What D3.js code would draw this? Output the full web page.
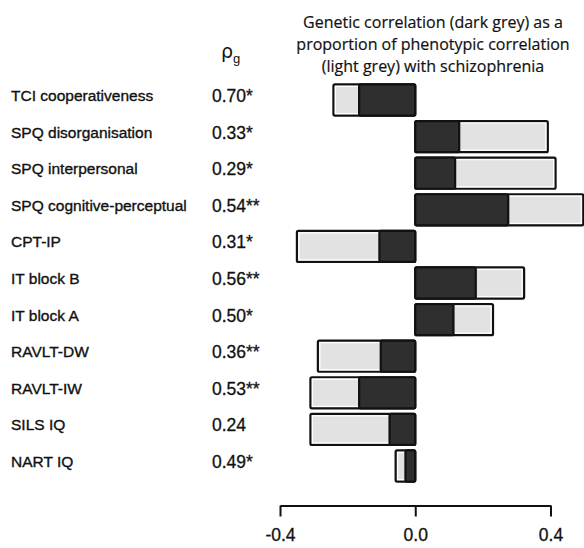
<!DOCTYPE html>
<html lang="en">
<head>
    <meta charset="UTF-8">
    <title>Genetic vs phenotypic correlation</title>
    <script src="https://d3js.org/d3.v7.min.js"></script>
    <style>
        body { margin: 0; background: #fff; }
    </style>
</head>
<body>
    <div id="my_chart"></div>
</body>
</html>

<script>
var width = 584, height = 548;

var traits = ["TCI cooperativeness", "SPQ disorganisation", "SPQ interpersonal",
    "SPQ cognitive-perceptual", "CPT-IP", "IT block B", "IT block A",
    "RAVLT-DW", "RAVLT-IW", "SILS IQ", "NART IQ"];
var rhoLabels = ["0.70*", "0.33*", "0.29*", "0.54**", "0.31*", "0.56**",
    "0.50*", "0.36**", "0.53**", "0.24", "0.49*"];
// phenotypic correlation (light grey) and genetic part of it (dark grey)
var phenotypic = [-0.242, 0.392, 0.415, 0.497, -0.350, 0.322, 0.230, -0.288, -0.310, -0.310, -0.058];
var genetic = [-0.166, 0.130, 0.118, 0.275, -0.106, 0.179, 0.113, -0.102, -0.166, -0.076, -0.029];
var tickValues = [-0.4, 0.0, 0.4];

var svg = d3.select("#my_chart")
    .append("svg")
        .attr("width", width)
        .attr("height", height);

var x = d3.scaleLinear()
    .domain([-0.4, 0.4])
    .range([280, 550.5]);

var y = d3.scaleBand()
    .domain(traits)
    .range([81.7, 484.3])
    .paddingInner(0.15)
    .paddingOuter(0.075);

//title
var title = ["Genetic correlation (dark grey) as a",
    "proportion of phenotypic correlation",
    "(light grey) with schizophrenia"];
svg.selectAll(".title")
    .data(title)
    .enter()
    .append("text")
    .attr("x", 433)
    .attr("y", function(d, i) { return 28 + i * 22; })
    .attr("text-anchor", "middle")
    .style("font-family", "'Open Sans', sans-serif")
    .style("font-size", "16px")
    .style("fill", "#111")
    .style("stroke", "#111")
    .style("stroke-width", 0.2)
    .text(function(d) { return d; });

//rho_g header
var head = svg.append("text")
    .attr("x", 221)
    .attr("y", 58)
    .style("font-family", "'DejaVu Sans', sans-serif")
    .style("fill", "#111");
head.append("tspan").style("font-size", "19px").text("ρ");
head.append("tspan").attr("dy", 5).style("font-size", "13px")
    .style("font-family", "'Liberation Sans', Arial, sans-serif").text("g");

//row labels
svg.selectAll(".trait")
    .data(traits)
    .enter()
    .append("text")
    .attr("x", 11)
    .attr("y", function(d) { return y(d) + y.bandwidth() / 2 + 1; })
    .style("font-family", "'Liberation Sans', Arial, sans-serif")
    .style("font-size", "15.5px")
    .style("fill", "#111")
    .style("stroke", "#111")
    .style("stroke-width", 0.35)
    .text(function(d) { return d; });

svg.selectAll(".rho")
    .data(rhoLabels)
    .enter()
    .append("text")
    .attr("x", 212)
    .attr("y", function(d, i) { return y(traits[i]) + y.bandwidth() / 2 + 2; })
    .style("font-family", "'Liberation Sans', Arial, sans-serif")
    .style("font-size", "17.5px")
    .style("fill", "#111")
    .style("stroke", "#111")
    .style("stroke-width", 0.3)
    .text(function(d) { return d; });

//bars
var bars = svg.selectAll(".bar")
    .data(traits)
    .enter()
    .append("g");

// light grey phenotypic bar
bars.append("rect")
    .attr("x", function(d, i) { return Math.min(x(0), x(phenotypic[i])); })
    .attr("y", function(d) { return y(d); })
    .attr("width", function(d, i) { return Math.abs(x(phenotypic[i]) - x(0)); })
    .attr("height", y.bandwidth())
    .attr("rx", 1.5)
    .attr("fill", "#e2e2e2")
    .attr("stroke", "#111")
    .attr("stroke-width", 2.2);

// white inner edge of the light bar
bars.append("rect")
    .attr("x", function(d, i) { return Math.min(x(0), x(phenotypic[i])) + 2; })
    .attr("y", function(d) { return y(d) + 2; })
    .attr("width", function(d, i) { return Math.max(0, Math.abs(x(phenotypic[i]) - x(0)) - 4); })
    .attr("height", y.bandwidth() - 4)
    .attr("fill", "none")
    .attr("stroke", "#fff")
    .attr("stroke-width", 1.2);

// dark grey genetic bar
bars.append("rect")
    .attr("x", function(d, i) { return Math.min(x(0), x(genetic[i])); })
    .attr("y", function(d) { return y(d); })
    .attr("width", function(d, i) { return Math.abs(x(genetic[i]) - x(0)); })
    .attr("height", y.bandwidth())
    .attr("rx", 1.5)
    .attr("fill", "#2f2f2f")
    .attr("stroke", "#111")
    .attr("stroke-width", 2.2);

//x axis
var xAxis = svg.append("g")
    .attr("transform", "translate(0,505.5)")
    .call(d3.axisBottom(x)
        .tickValues(tickValues)
        .tickSize(11)
        .tickSizeOuter(0)
        .tickFormat(function(d) { return d3.format(".1f")(d).replace("−", "-"); }));

xAxis.select(".domain").attr("stroke", "#111").attr("stroke-width", 2);
xAxis.selectAll(".tick line").attr("stroke", "#111").attr("stroke-width", 2);
xAxis.selectAll(".tick text")
    .attr("y", 23)
    .style("font-family", "'Liberation Sans', Arial, sans-serif")
    .style("font-size", "17.5px")
    .style("fill", "#111")
    .style("stroke", "#111")
    .style("stroke-width", 0.3);
</script>
